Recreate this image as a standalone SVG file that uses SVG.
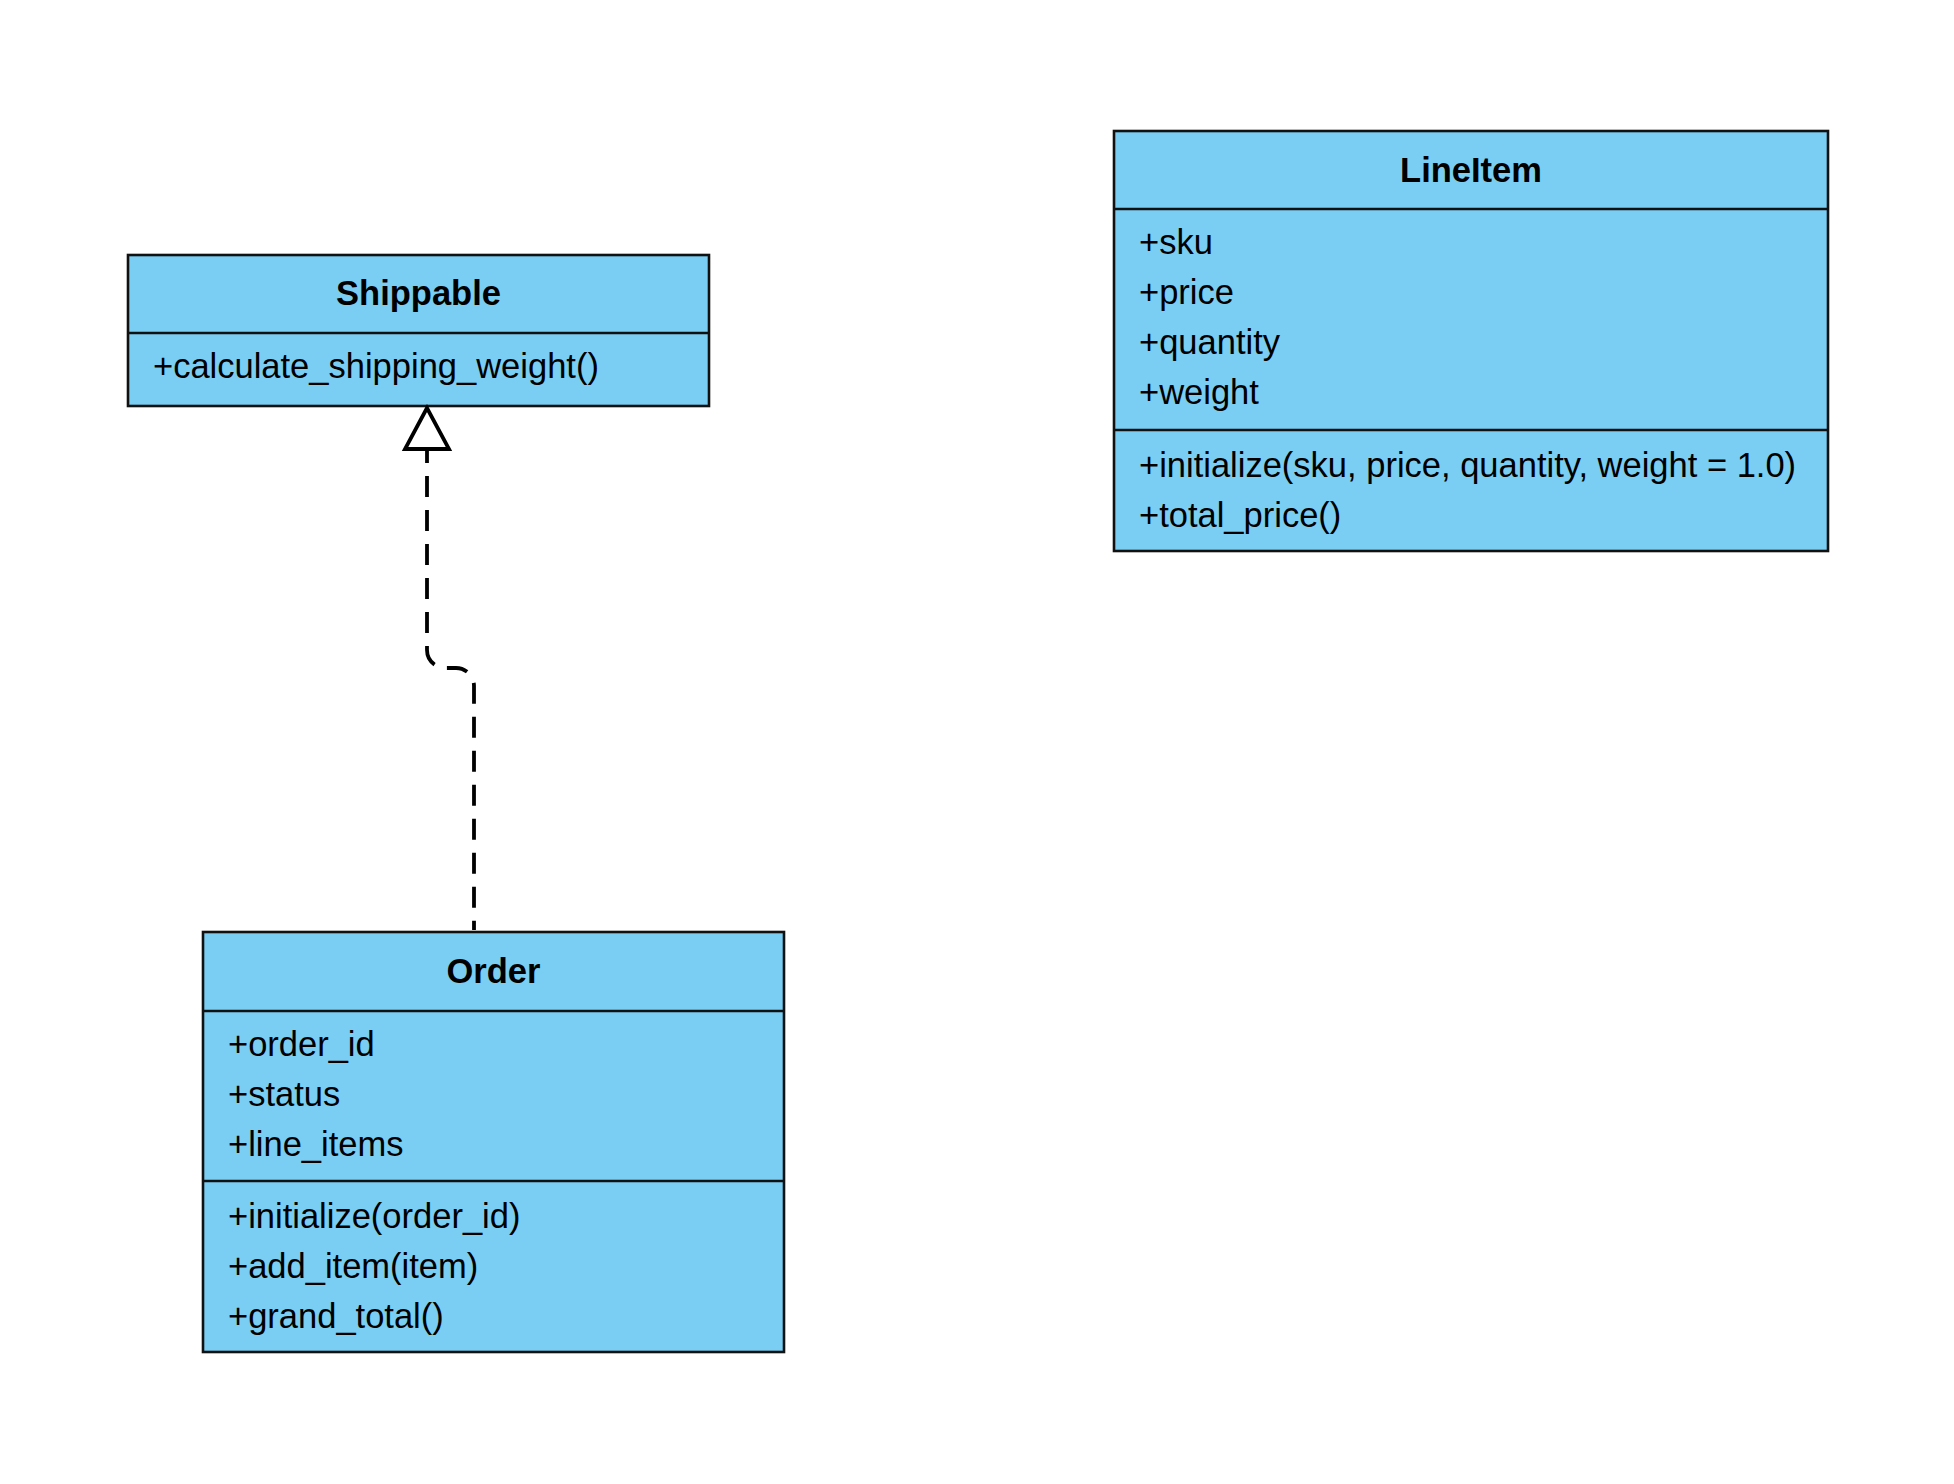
<svg xmlns="http://www.w3.org/2000/svg" width="1954" height="1484" viewBox="0 0 1954 1484">
<style>
.box{fill:#7ACEF4;stroke:#111;stroke-width:2.6}
.div{stroke:#111;stroke-width:2.6}
.t{font-family:"Liberation Sans",Arial,Helvetica,sans-serif;font-size:34.5px;fill:#000}
.h{font-weight:bold;text-anchor:middle}
.conn{fill:none;stroke:#000;stroke-width:3.8;stroke-dasharray:21 13;stroke-dashoffset:7}
</style>
<rect width="1954" height="1484" fill="#fff"/>
<g id="node-shippable">
<rect class="box" x="128" y="255" width="581" height="151"/>
<line class="div" x1="128" y1="333" x2="709" y2="333"/>
<text class="t h" x="418.5" y="305">Shippable</text>
<text class="t" x="153" y="378">+calculate_shipping_weight()</text>
</g>
<g id="node-lineitem">
<rect class="box" x="1114" y="131" width="714" height="420"/>
<line class="div" x1="1114" y1="209" x2="1828" y2="209"/>
<line class="div" x1="1114" y1="430" x2="1828" y2="430"/>
<text class="t h" x="1471" y="182">LineItem</text>
<text class="t" x="1139" y="254">+sku</text>
<text class="t" x="1139" y="304">+price</text>
<text class="t" x="1139" y="354">+quantity</text>
<text class="t" x="1139" y="404">+weight</text>
<text class="t" x="1139" y="477">+initialize(sku, price, quantity, weight = 1.0)</text>
<text class="t" x="1139" y="527">+total_price()</text>
</g>
<g id="node-order">
<rect class="box" x="203" y="932" width="581" height="420"/>
<line class="div" x1="203" y1="1011" x2="784" y2="1011"/>
<line class="div" x1="203" y1="1181" x2="784" y2="1181"/>
<text class="t h" x="493.5" y="983">Order</text>
<text class="t" x="228" y="1056">+order_id</text>
<text class="t" x="228" y="1106">+status</text>
<text class="t" x="228" y="1156">+line_items</text>
<text class="t" x="228" y="1228">+initialize(order_id)</text>
<text class="t" x="228" y="1278">+add_item(item)</text>
<text class="t" x="228" y="1328">+grand_total()</text>
</g>
<g id="connectors">
<path class="conn" d="M 427 449 V 650 A 18 18 0 0 0 445 668 H 456 A 18 18 0 0 1 474 686 V 930"/>
<polygon points="427,408 405,449 449,449" fill="#fff" stroke="#000" stroke-width="3.8" stroke-linejoin="miter"/>
</g>
</svg>
